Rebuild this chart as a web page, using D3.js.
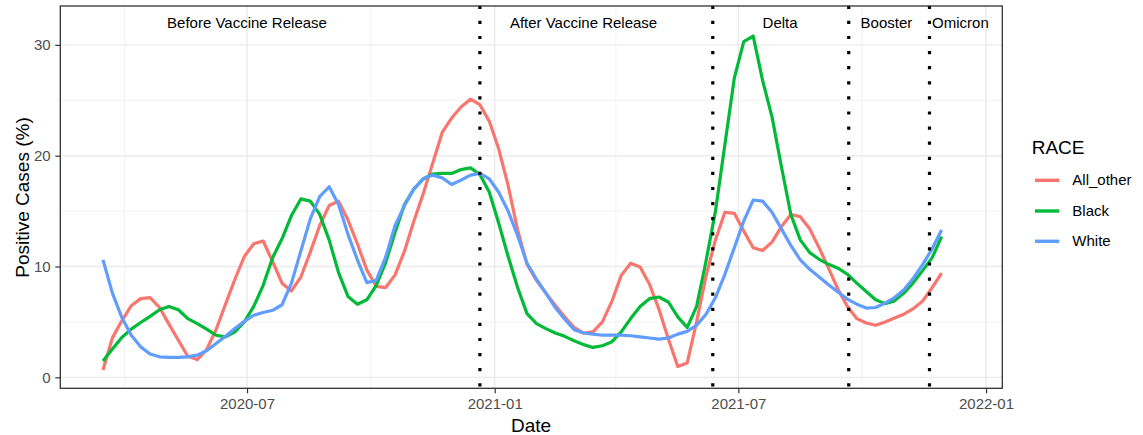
<!DOCTYPE html>
<html><head><meta charset="utf-8">
<script src="https://cdn.jsdelivr.net/npm/d3@7"></script>
<style>html,body{margin:0;padding:0;background:#fff;} svg{display:block;font-family:"Liberation Sans",Arial,sans-serif;}</style>
</head><body><svg id="chart" width="1143" height="435"></svg>
<script>
// ---- data (weekly) ----
const firstWeek = "2020-03-16";
const allOther = [0.66,3.56,5.1,6.46,7.1,7.2,6.3,4.8,3.35,1.9,
  1.6,2.5,4.3,6.6,8.85,10.9,12.05,12.3,10.45,8.5,
  7.8,9.05,11.3,13.7,15.5,15.9,14.2,12.05,9.7,8.2,
  8.1,9.25,11.4,14.1,16.6,19.35,22.1,23.4,24.4,25.1,
  24.6,23.1,20.6,17.3,13.3,10.2,8.75,7.6,6.5,5.45,
  4.5,4.0,4.1,5.0,6.85,9.2,10.3,9.95,8.4,6.15,
  3.45,0.97,1.3,5.0,9.15,12.4,14.9,14.8,13.2,11.7,
  11.45,12.2,13.6,14.7,14.5,13.4,11.7,9.85,7.95,6.4,
  5.3,4.9,4.7,5.0,5.35,5.7,6.2,6.9,8.1,9.4];
const black = [1.47,2.55,3.6,4.35,4.95,5.5,6.1,6.4,6.1,5.3,
  4.85,4.35,3.8,3.65,4.1,5.0,6.4,8.3,10.8,12.5,
  14.6,16.1,15.9,14.7,12.4,9.45,7.3,6.6,7.0,8.3,
  10.35,13.1,15.6,17.0,17.9,18.35,18.4,18.4,18.75,18.9,
  18.3,16.7,13.9,10.9,8.1,5.75,4.85,4.4,4.0,3.7,
  3.3,2.95,2.7,2.85,3.2,4.1,5.3,6.4,7.1,7.25,
  6.8,5.45,4.5,6.4,10.5,15.0,21.0,27.0,30.3,30.8,
  26.8,23.5,19.0,14.7,12.4,11.25,10.65,10.2,9.85,9.3,
  8.5,7.75,7.0,6.65,6.9,7.6,8.55,9.65,10.8,12.7];
const white = [10.6,7.6,5.4,3.8,2.75,2.1,1.85,1.8,1.8,1.85,
  2.0,2.4,3.05,3.7,4.4,5.05,5.6,5.85,6.05,6.55,
  8.5,11.4,14.3,16.3,17.2,15.6,12.9,10.6,8.55,8.75,
  10.85,13.7,15.5,17.0,17.95,18.25,18.0,17.4,17.8,18.25,
  18.4,17.9,16.7,15.0,12.8,10.3,8.85,7.6,6.3,5.25,
  4.3,4.0,3.9,3.8,3.8,3.8,3.75,3.65,3.55,3.45,
  3.55,3.9,4.15,4.7,5.7,7.2,9.3,11.7,14.1,16.0,
  15.9,14.9,13.4,11.9,10.6,9.75,9.05,8.35,7.7,7.05,
  6.6,6.25,6.3,6.7,7.2,7.9,8.95,10.2,11.6,13.3];
const seriesNames = ["All_other","Black","White"];
const seriesColors = ["#F8766D","#00BA38","#619CFF"];
const periodBreaks = ["2020-12-21","2021-06-12","2021-09-21","2021-11-20"];
const periodLabels = ["Before Vaccine Release","After Vaccine Release","Delta","Booster","Omicron"];
const periodLabelDates = ["2020-07-01","2021-03-08","2021-08-01","2021-10-19","2021-12-13"];
const xTicks = ["2020-07-01","2021-01-01","2021-07-01","2022-01-01"];
const xMinor = ["2020-04-01","2020-10-01","2021-04-01","2021-10-01"];
const yTicks = [0,10,20,30];
const yMinor = [5,15,25];
const xDomain = ["2020-02-13T07:00:00Z","2022-01-13T02:00:00Z"];
const yDomain = [-0.99, 33.51];

// ---- layout ----
const P = {left:60.3, right:1002.3, top:6, bottom:388.3};
const svg = d3.select("#chart");
const parse = s => new Date(s.length > 10 ? s : s + "T00:00:00Z");
const x = d3.scaleUtc().domain(xDomain.map(parse)).range([P.left, P.right]);
const y = d3.scaleLinear().domain(yDomain).range([P.bottom, P.top]);
const start = parse(firstWeek);
const dates = allOther.map((_, i) => d3.utcDay.offset(start, 7 * i));
const series = [allOther, black, white];

// grid
const g = svg.append("g");
g.selectAll(".ymin").data(yMinor).join("line")
  .attr("x1", P.left).attr("x2", P.right).attr("y1", d => y(d)).attr("y2", d => y(d))
  .attr("stroke", "#F0F0F0").attr("stroke-width", 0.8);
g.selectAll(".xmin").data(xMinor).join("line")
  .attr("y1", P.top).attr("y2", P.bottom).attr("x1", d => x(parse(d))).attr("x2", d => x(parse(d)))
  .attr("stroke", "#F0F0F0").attr("stroke-width", 0.8);
g.selectAll(".ymaj").data(yTicks).join("line")
  .attr("x1", P.left).attr("x2", P.right).attr("y1", d => y(d)).attr("y2", d => y(d))
  .attr("stroke", "#EBEBEB").attr("stroke-width", 1.4);
g.selectAll(".xmaj").data(xTicks).join("line")
  .attr("y1", P.top).attr("y2", P.bottom).attr("x1", d => x(parse(d))).attr("x2", d => x(parse(d)))
  .attr("stroke", "#EBEBEB").attr("stroke-width", 1.4);

// lines
const line = d3.line().x((d, i) => x(dates[i])).y(d => y(d));
series.forEach((s, k) => {
  svg.append("path").datum(s).attr("d", line)
    .attr("fill", "none").attr("stroke", seriesColors[k]).attr("stroke-width", 3.2)
    .attr("stroke-linejoin", "round").attr("stroke-linecap", "butt");
});

// period dotted lines
svg.selectAll(".vl").data(periodBreaks).join("line")
  .attr("x1", d => x(parse(d))).attr("x2", d => x(parse(d)))
  .attr("y1", P.top - 0.3).attr("y2", P.bottom)
  .attr("stroke", "#000").attr("stroke-width", 3.2)
  .attr("stroke-dasharray", "3.2 11.9");

// period labels
svg.selectAll(".pl").data(periodLabels).join("text")
  .attr("x", (d, i) => x(parse(periodLabelDates[i]))).attr("y", 27.5)
  .attr("text-anchor", "middle").attr("font-size", 15).attr("fill", "#000").text(d => d);

// border
svg.append("rect").attr("x", P.left).attr("y", P.top)
  .attr("width", P.right - P.left).attr("height", P.bottom - P.top)
  .attr("fill", "none").attr("stroke", "#333333").attr("stroke-width", 1.3);

// axes
const xa = svg.append("g").attr("transform", `translate(0,${P.bottom})`)
  .call(d3.axisBottom(x).tickValues(xTicks.map(parse)).tickFormat(d3.utcFormat("%Y-%m")).tickSize(5).tickPadding(5.3));
const ya = svg.append("g").attr("transform", `translate(${P.left},0)`)
  .call(d3.axisLeft(y).tickValues(yTicks).tickFormat(d3.format("d")).tickSize(5).tickPadding(4.6));
[xa, ya].forEach(a => {
  a.select(".domain").remove();
  a.selectAll("line").attr("stroke", "#333333").attr("stroke-width", 1.2);
  a.selectAll("text").attr("fill", "#4D4D4D").attr("font-size", 15)
    .attr("font-family", '"Liberation Sans",Arial,sans-serif');
});

// axis titles
svg.append("text").attr("x", 531).attr("y", 431.5).attr("text-anchor", "middle")
  .attr("font-size", 19).attr("fill", "#000").text("Date");
svg.append("text").attr("transform", "translate(28.5,197.5) rotate(-90)").attr("text-anchor", "middle")
  .attr("font-size", 19).attr("fill", "#000").text("Positive Cases (%)");

// legend
const lg = svg.append("g");
lg.append("text").attr("x", 1031.7).attr("y", 154).attr("font-size", 19).attr("fill", "#000").text("RACE");
const keyY = [180.3, 211, 241.3];
seriesNames.forEach((n, k) => {
  lg.append("line").attr("x1", 1035).attr("x2", 1059.3).attr("y1", keyY[k]).attr("y2", keyY[k])
    .attr("stroke", seriesColors[k]).attr("stroke-width", 3.4);
  lg.append("text").attr("x", 1072.3).attr("y", keyY[k] + 4.8).attr("font-size", 15).attr("fill", "#000").text(n);
});
</script></body></html>
